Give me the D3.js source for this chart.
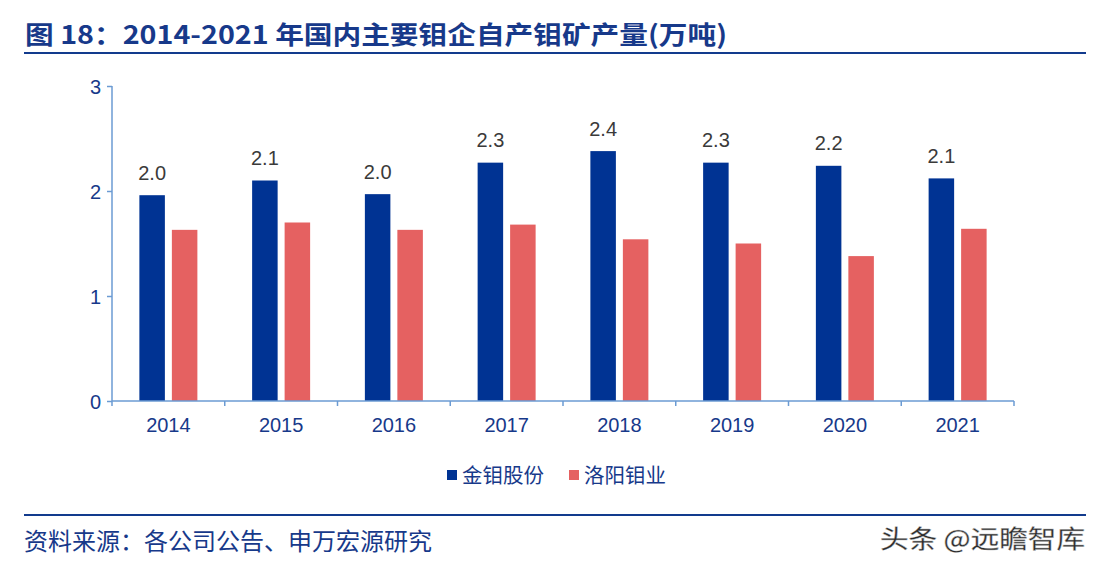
<!DOCTYPE html>
<html><head><meta charset="utf-8">
<script src="https://cdn.jsdelivr.net/npm/d3@7/dist/d3.min.js"></script>
<style>
html,body{margin:0;padding:0;background:#fff;}
svg{display:block;}
</style></head>
<body>
<svg id="chart" width="1099" height="564"></svg>
<script>
const years = ["2014","2015","2016","2017","2018","2019","2020","2021"];
const seriesNames = ["金钼股份","洛阳钼业"];
const jinmu = [1.96,2.10,1.97,2.27,2.38,2.27,2.24,2.12];
const luoyang = [1.63,1.70,1.63,1.68,1.54,1.50,1.38,1.64];
const jinmuLabels = ["2.0","2.1","2.0","2.3","2.4","2.3","2.2","2.1"];
const yTicks = [0,1,2,3];
const titleText = "图 18：2014-2021 年国内主要钼企自产钼矿产量(万吨)";
const sourceText = "资料来源：各公司公告、申万宏源研究";
const watermark = "头条 @远瞻智库";

const colors = ["#003393","#E56161"];
const navy = "#17398A";
const axisColor = "#6B9BD3";
const numFont = "'Liberation Sans', Arial, sans-serif";
const cjkFont = "'Noto Sans CJK SC', 'Noto Sans', sans-serif";

const svg = d3.select("#chart");

// title
svg.append("text").attr("x", 25).attr("y", 44)
  .attr("font-family", cjkFont).attr("font-weight", "bold").attr("font-size", 25.5)
  .attr("textLength", 702).attr("lengthAdjust", "spacingAndGlyphs")
  .attr("fill", navy).text(titleText);
svg.append("line").attr("x1", 24).attr("x2", 1086).attr("y1", 53).attr("y2", 53)
  .attr("stroke", "#123B8D").attr("stroke-width", 2.2);

// scales
const x0 = d3.scaleBand().domain(years).range([112, 1014]).paddingInner(0).paddingOuter(0);
const x1 = d3.scaleBand().domain(seriesNames).range([-29, 29]).paddingInner(0.215);
const y = d3.scaleLinear().domain([0, 3]).range([401, 86]);

// bars
const rows = years.map((yr, i) => ({year: yr, vals: [jinmu[i], luoyang[i]], label: jinmuLabels[i]}));
const g = svg.append("g");
const groups = g.selectAll("g.grp").data(rows).join("g")
  .attr("transform", d => `translate(${x0(d.year) + x0.bandwidth()/2},0)`);
groups.selectAll("rect").data(d => d.vals.map((v, k) => ({k, v}))).join("rect")
  .attr("x", d => x1(seriesNames[d.k]))
  .attr("width", x1.bandwidth())
  .attr("y", d => y(d.v))
  .attr("height", d => y(0) - y(d.v))
  .attr("fill", d => colors[d.k]);
groups.append("text")
  .attr("x", x1(seriesNames[0]) + x1.bandwidth()/2)
  .attr("y", d => y(d.vals[0]) - 15.5)
  .attr("text-anchor", "middle")
  .attr("font-family", numFont).attr("font-size", 20).attr("fill", "#3a3a3a")
  .text(d => d.label);

// y axis
const yAxis = svg.append("g").attr("transform", "translate(112,0)")
  .call(d3.axisLeft(y).tickValues(yTicks).tickFormat(d3.format("d")).tickSize(5).tickPadding(6));
yAxis.select(".domain").attr("stroke", axisColor).attr("stroke-width", 1.5).attr("d", `M0,${y(3)}V${y(0)}`);
yAxis.selectAll(".tick line").attr("stroke", axisColor).attr("stroke-width", 1.5);
yAxis.selectAll(".tick text").attr("font-family", numFont).attr("font-size", 20).attr("fill", navy)
  .attr("dy", "0.36em");

// x axis
const xAxis = svg.append("g").attr("transform", `translate(0,${y(0)})`)
  .call(d3.axisBottom(x0).tickSize(0).tickPadding(17));
xAxis.select(".domain").attr("stroke", axisColor).attr("stroke-width", 1.5).attr("d", "M112,0H1014");
xAxis.selectAll(".tick text").attr("font-family", numFont).attr("font-size", 20).attr("fill", navy);
const bounds = years.map(yr => x0(yr)).concat([x0(years[years.length-1]) + x0.bandwidth()]);
xAxis.selectAll("line.sep").data(bounds).join("line").attr("class", "sep")
  .attr("x1", d => d).attr("x2", d => d).attr("y1", 0).attr("y2", 5)
  .attr("stroke", axisColor).attr("stroke-width", 1.5);

// legend
const legendX = [447, 569];
const leg = svg.append("g");
seriesNames.forEach((name, k) => {
  leg.append("rect").attr("x", legendX[k]).attr("y", 470).attr("width", 10).attr("height", 10).attr("fill", colors[k]);
  leg.append("text").attr("x", legendX[k] + 15).attr("y", 482.5)
    .attr("font-family", cjkFont).attr("font-size", 20.5).attr("fill", navy).text(name);
});

// footer
svg.append("line").attr("x1", 24).attr("x2", 1086).attr("y1", 515).attr("y2", 515)
  .attr("stroke", "#123B8D").attr("stroke-width", 2.2);
svg.append("text").attr("x", 24).attr("y", 550)
  .attr("font-family", cjkFont).attr("font-size", 24).attr("fill", navy)
  .attr("textLength", 408).attr("lengthAdjust", "spacingAndGlyphs").text(sourceText);
svg.append("text").attr("x", 880).attr("y", 548)
  .attr("font-family", cjkFont).attr("font-size", 25).attr("fill", "#2a2a2a")
  .attr("textLength", 205).attr("lengthAdjust", "spacingAndGlyphs")
  .attr("stroke", "#bbb").attr("stroke-width", 0.4).text(watermark);
</script>
</body></html>
